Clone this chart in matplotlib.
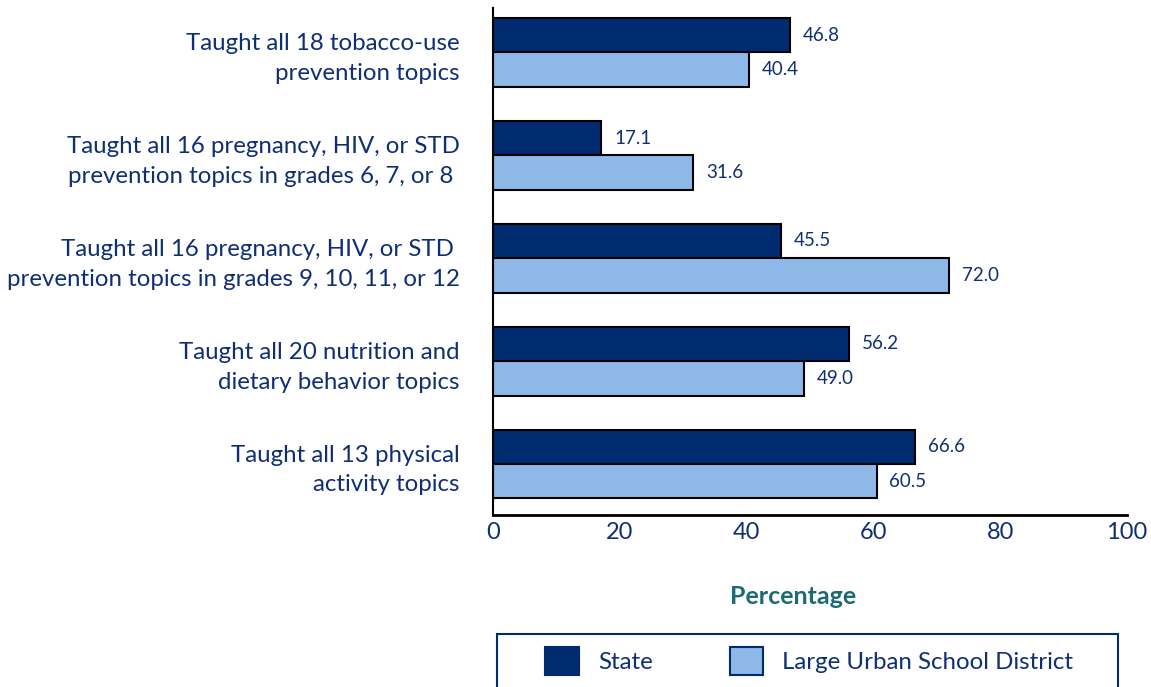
import numpy as np
import matplotlib.pyplot as plt
from matplotlib.patches import Patch, Rectangle

plt.rcParams['font.family'] = ['Lato', 'DejaVu Sans']

categories = [
    "Taught all 18 tobacco-use\nprevention topics",
    "Taught all 16 pregnancy, HIV, or STD\nprevention topics in grades 6, 7, or 8 ",
    "Taught all 16 pregnancy, HIV, or STD \nprevention topics in grades 9, 10, 11, or 12",
    "Taught all 20 nutrition and\ndietary behavior topics",
    "Taught all 13 physical\nactivity topics",
]
state = [46.8, 17.1, 45.5, 56.2, 66.6]
district = [40.4, 31.6, 72.0, 49.0, 60.5]
xticks = [0, 20, 40, 60, 80, 100]

navy = '#002b70'
light = '#8db8e8'
txt = '#0f2f75'
teal = '#1c6b74'

fig = plt.figure(figsize=(11.51, 6.87), dpi=100)
ax = fig.add_axes([493/1151, 1-515/687, (1127-493)/1151, (515-8)/687])

y = np.arange(len(categories))
h = 0.335
ax.barh(y - h/2, state, height=h, color=navy, edgecolor='black', linewidth=1.5)
ax.barh(y + h/2, district, height=h, color=light, edgecolor='black', linewidth=1.5)

for yi, v in zip(y, state):
    ax.text(v + 2.0, yi - h/2, f"{v:.1f}", va='center', ha='left', fontsize=13.5, color=txt)
for yi, v in zip(y, district):
    ax.text(v + 2.0, yi + h/2, f"{v:.1f}", va='center', ha='left', fontsize=13.5, color=txt)

ax.set_xlim(0, 100)
ax.set_ylim(4.496, -0.432)
ax.set_xticks(xticks)
ax.set_xticklabels([str(t) for t in xticks], fontsize=17, color=txt)
ax.set_yticks(y)
ax.set_yticklabels(categories, fontsize=17.3, color=txt, linespacing=1.5)
ax.tick_params(axis='both', length=0)
ax.tick_params(axis='y', pad=24)
ax.tick_params(axis='x', pad=5)
for s in ['top', 'right']:
    ax.spines[s].set_visible(False)
ax.spines['left'].set_linewidth(1.5)
ax.spines['bottom'].set_linewidth(2)

fig.text(793/1151, 1-596/687, "Percentage", ha='center', va='center',
         fontsize=18, fontweight='bold', color=teal)

# legend box runs off the bottom edge in the original
fig.patches.append(Rectangle((497/1151, -0.05), (1118-497)/1151, 1-634/687+0.05,
                             transform=fig.transFigure, fill=False,
                             edgecolor=navy, linewidth=1.5))
handles = [Patch(facecolor=navy, edgecolor=navy, linewidth=1.5, label='State'),
           Patch(facecolor=light, edgecolor=navy, linewidth=1.5, label='Large Urban School District')]
leg = fig.legend(handles=handles, ncol=2, loc='center left',
                 bbox_to_anchor=(545/1151, 1-661/687), fontsize=17.3,
                 frameon=False, handlelength=1.4, handleheight=1.4,
                 handletextpad=0.8, columnspacing=3.2, borderpad=0, borderaxespad=0)
for t in leg.get_texts():
    t.set_color(txt)

fig.savefig("out.png", dpi=100)
